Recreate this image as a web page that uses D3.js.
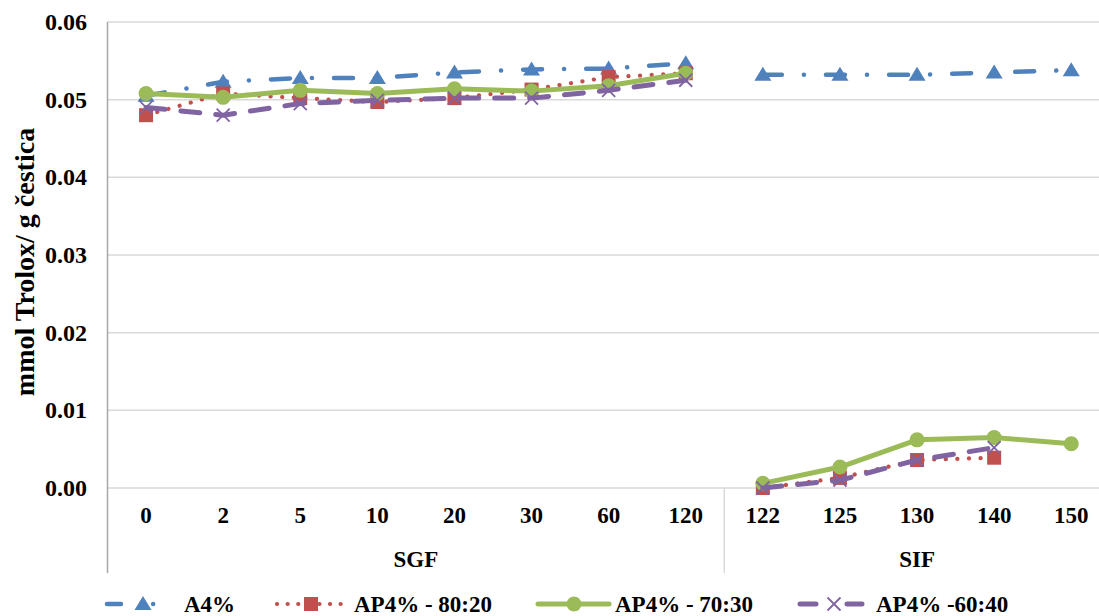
<!DOCTYPE html>
<html><head><meta charset="utf-8">
<script src="https://cdn.jsdelivr.net/npm/d3@7"></script>
<style>
html,body{margin:0;padding:0;background:#fff;}
svg{display:block;}
text{font-family:"Liberation Serif","Times New Roman",serif;font-weight:bold;fill:#000;}
</style></head>
<body>
<svg id="chart" width="1099" height="616"></svg>
<script>
const categories = ["0","2","5","10","20","30","60","120","122","125","130","140","150"];
const groups = [
  {name:"SGF", cats:["0","2","5","10","20","30","60","120"]},
  {name:"SIF", cats:["122","125","130","140","150"]}
];
const yTicks = [0,0.01,0.02,0.03,0.04,0.05,0.06];
const seriesNames = ["A4%","AP4% - 80:20","AP4% - 70:30","AP4% -60:40"];
const a4 =   [0.0505,0.0523,0.0528,0.0528,0.0535,0.0539,0.0540,0.0547, 0.0532,0.0532,0.0532,0.0535,0.0538];
const ap8020=[0.0480,0.0508,0.0502,0.0497,0.0502,0.0513,0.0529,0.0534, 0.0000,0.0013,0.0036,0.0039,null];
const ap7030=[0.0508,0.0503,0.0512,0.0508,0.0514,0.0511,0.0518,0.0534, 0.0006,0.0027,0.0062,0.0065,0.0057];
const ap6040=[0.0490,0.0480,0.0495,0.0499,0.0502,0.0502,0.0512,0.0525, 0.0000,0.0010,0.0036,0.0052,null];

const seriesValues = [a4, ap8020, ap7030, ap6040];
const styles = [
  {color:"#4F81BD", width:4.5, dash:"19,22,0.1,22", marker:"triangle"},
  {color:"#C0504D", width:4.2, dash:"0.1,11.5", marker:"square"},
  {color:"#9BBB59", width:5, dash:null, marker:"circle"},
  {color:"#8064A2", width:5, dash:"19,16", marker:"x"}
];

const svg = d3.select("#chart");
const W = 1099, H = 616;
const plotLeft = 107.5, plotTop = 22, plotBottom = 488;
const x = d3.scaleBand().domain(categories).range([plotLeft, plotLeft + 13*77.1]).padding(0);
const y = d3.scaleLinear().domain([0,0.06]).range([plotBottom, plotTop]);
const cx = c => x(c) + x.bandwidth()/2;

// gridlines
svg.append("g").selectAll("line").data(yTicks).join("line")
  .attr("x1", plotLeft).attr("x2", W)
  .attr("y1", d=>y(d)).attr("y2", d=>y(d))
  .attr("stroke", "#D9D9D9").attr("stroke-width", 1.5);

// left axis line
svg.append("line").attr("x1", plotLeft).attr("x2", plotLeft).attr("y1", plotTop).attr("y2", 573)
  .attr("stroke", "#A6A6A6").attr("stroke-width", 1.5);
// group divider
const divX = x("122");
svg.append("line").attr("x1", divX).attr("x2", divX).attr("y1", plotBottom).attr("y2", 573)
  .attr("stroke", "#D9D9D9").attr("stroke-width", 1.5);

// y tick labels
svg.append("g").selectAll("text").data(yTicks).join("text")
  .attr("x", 87).attr("y", d=>y(d)).attr("dy","0.33em")
  .attr("text-anchor","end").attr("font-size", 24)
  .text(d=>d3.format(".2f")(d));

// x tick labels
svg.append("g").selectAll("text").data(categories).join("text")
  .attr("x", d=>cx(d)).attr("y", 523)
  .attr("text-anchor","middle").attr("font-size", 23)
  .text(d=>d);

// group labels
svg.append("g").selectAll("text").data(groups).join("text")
  .attr("x", g => (cx(g.cats[0]) + cx(g.cats[g.cats.length-1]))/2)
  .attr("y", 567).attr("text-anchor","middle").attr("font-size", 23)
  .text(g=>g.name);

// y title
svg.append("text").attr("transform","translate(34,262) rotate(-90)")
  .attr("text-anchor","middle").attr("font-size", 28)
  .text("mmol Trolox/ g čestica");

function drawMarker(g, type, color, px, py) {
  if (type === "triangle") {
    g.append("path").attr("d", `M${px},${py-8}L${px+8.5},${py+6}L${px-8.5},${py+6}Z`)
      .attr("fill", color);
  } else if (type === "square") {
    g.append("rect").attr("x", px-7).attr("y", py-7).attr("width",14).attr("height",14).attr("fill", color);
  } else if (type === "circle") {
    g.append("circle").attr("cx", px).attr("cy", py).attr("r", 7.5).attr("fill", color);
  } else if (type === "x") {
    const s = 6.5;
    g.append("path").attr("d", `M${px-s},${py-s}L${px+s},${py+s}M${px-s},${py+s}L${px+s},${py-s}`)
      .attr("stroke", color).attr("stroke-width", 1.8).attr("fill","none");
  }
}

const plot = svg.append("g");
const line = d3.line().defined(d=>d.v!==null).x(d=>cx(d.c)).y(d=>y(d.v));
seriesValues.forEach((vals, i) => {
  const st = styles[i];
  const sg = plot.append("g");
  groups.forEach(gr => {
    const pts = gr.cats.map(c => ({c, v: vals[categories.indexOf(c)]}));
    const p = sg.append("path").datum(pts).attr("d", line)
      .attr("fill","none").attr("stroke", st.color).attr("stroke-width", st.width)
      .attr("stroke-linecap","round").attr("stroke-linejoin","round");
    if (st.dash) p.attr("stroke-dasharray", st.dash);
  });
  categories.forEach((c, j) => {
    if (vals[j] !== null) drawMarker(sg, st.marker, st.color, cx(c), y(vals[j]));
  });
});

// legend
const legendItems = [
  {x1:107, x2:176, mx:143, tx:184, dash:"14,22,0.1,10,0.1,30"},
  {x1:277, x2:346, mx:311, tx:354, dash:"0.1,10.5"},
  {x1:538, x2:609, mx:574, tx:615, dash:null},
  {x1:800, x2:862, mx:834, tx:876, dash:"16,31,16"}
];
const ly = 604;
legendItems.forEach((li, i) => {
  const st = styles[i];
  const g = svg.append("g");
  const l = g.append("line").attr("x1", li.x1).attr("x2", li.x2).attr("y1", ly).attr("y2", ly)
    .attr("stroke", st.color).attr("stroke-width", st.width).attr("stroke-linecap","round");
  if (li.dash) l.attr("stroke-dasharray", li.dash);
  drawMarker(g, st.marker, st.color, li.mx, ly);
  g.append("text").attr("x", li.tx).attr("y", 612).attr("font-size", 23).text(seriesNames[i]);
});
</script>
</body></html>
